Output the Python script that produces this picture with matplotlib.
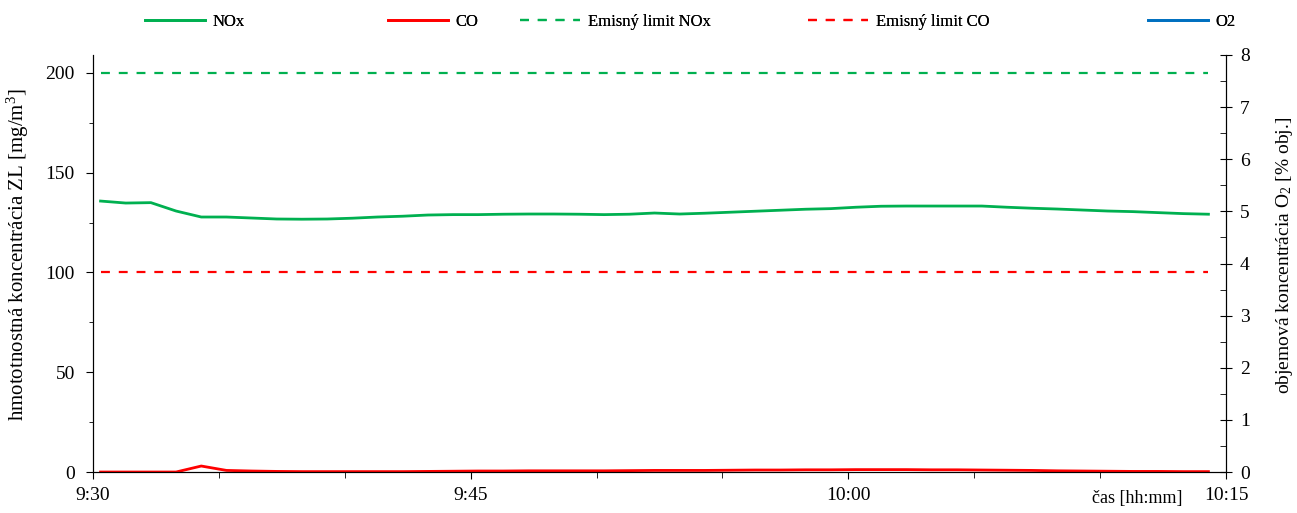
import numpy as np
import pandas as pd
import matplotlib
matplotlib.use('Agg')
import matplotlib.pyplot as plt
import matplotlib.dates as mdates
from matplotlib.ticker import MultipleLocator

plt.rcParams['font.family'] = ['Liberation Serif', 'DejaVu Serif']
plt.rcParams['font.size'] = 12
plt.rcParams['mathtext.fontset'] = 'custom'
plt.rcParams['mathtext.rm'] = 'Liberation Serif'
plt.rcParams['mathtext.it'] = 'Liberation Serif:italic'

# merania po minutach
cas = pd.date_range('2020-01-01 09:30:18', periods=45, freq='min')

nox = [135.8, 134.8, 135.0, 130.8, 127.8, 127.8, 127.3, 126.8, 126.7, 126.8,
       127.2, 127.8, 128.2, 128.8, 129.0, 129.0, 129.2, 129.3, 129.3, 129.2,
       129.0, 129.2, 129.8, 129.3, 129.7, 130.2, 130.7, 131.2, 131.7, 132.0,
       132.7, 133.2, 133.3, 133.3, 133.3, 133.3, 132.7, 132.2, 131.8, 131.3,
       130.8, 130.5, 130.0, 129.5, 129.2]
co = [0.0, 0.0, 0.0, 0.0, 3.0, 0.8, 0.5, 0.3, 0.2, 0.2,
      0.2, 0.2, 0.2, 0.3, 0.4, 0.5, 0.5, 0.6, 0.6, 0.6,
      0.6, 0.7, 0.8, 0.8, 0.8, 0.9, 1.0, 1.0, 1.1, 1.1,
      1.2, 1.2, 1.2, 1.1, 1.1, 1.0, 0.9, 0.8, 0.6, 0.5,
      0.4, 0.3, 0.3, 0.2, 0.2]
limit_nox = 200
limit_co = 100
o2 = []  # mimo rozsahu osi, nezobrazene

green = '#00B050'
red = '#FF0000'
blue = '#0070C0'

fig = plt.figure(figsize=(12.97, 5.13), dpi=100)
ax = fig.add_axes([0.0717, 0.0799, 0.8736, 0.8129])
ax2 = ax.twinx()

l1, = ax.plot(cas, nox, color=green, lw=2, label='NOx')
l2, = ax.plot(cas, co, color=red, lw=2, label='CO')
l3, = ax.plot(cas, [limit_nox]*len(cas), color=green, lw=1.6, ls=(0, (4, 4)), label='Emisný limit NOx')
l4, = ax.plot(cas, [limit_co]*len(cas), color=red, lw=1.6, ls=(0, (4, 4)), label='Emisný limit CO')
l5, = ax2.plot(cas[:len(o2)], o2, color=blue, lw=2, label='O2')

t0 = pd.Timestamp('2020-01-01 09:30')
t1 = pd.Timestamp('2020-01-01 10:15')
ax.set_xlim(t0, t1)
ax.set_ylim(0, 209)
ax2.set_ylim(0, 8)

ax.xaxis.set_major_locator(mdates.MinuteLocator(byminute=[0, 15, 30, 45]))
ax.xaxis.set_minor_locator(mdates.MinuteLocator(byminute=range(0, 60, 5)))
ax.xaxis.set_major_formatter(mdates.DateFormatter('%-H:%M'))
ax.yaxis.set_major_locator(MultipleLocator(50))
ax.yaxis.set_minor_locator(MultipleLocator(25))
ax2.yaxis.set_major_locator(MultipleLocator(1))
ax2.yaxis.set_minor_locator(MultipleLocator(0.5))

ax.tick_params(axis='x', which='major', direction='out', length=5, labelsize=14, pad=6)
ax.tick_params(axis='x', which='minor', direction='out', length=4)
ax.tick_params(axis='y', which='major', direction='out', length=5, labelsize=14, pad=8)
ax.tick_params(axis='y', which='minor', direction='out', length=3)
ax2.tick_params(axis='y', which='major', direction='inout', length=8, labelsize=14, pad=6)
ax2.tick_params(axis='y', which='minor', direction='in', length=4)

for a in (ax, ax2):
    a.spines['top'].set_visible(False)

ax.set_ylabel('hmototnostná koncentrácia ZL [mg/m$^3$]', fontsize=15)
ax.yaxis.set_label_coords(-0.055, 0.52)
ax2.set_ylabel('objemová koncentrácia O$_2$ [% obj.]', fontsize=14)
ax2.yaxis.set_label_coords(1.042, 0.52)
fig.text(0.912, 0.012, 'čas [hh:mm]', ha='right', va='bottom', fontsize=13)

# polozky legendy rozmiestnene samostatne ako v povodnom grafe
leg_x = [145, 388, 520, 808, 1148]
for h, x in zip([l1, l2, l3, l4, l5], leg_x):
    lg = fig.legend(handles=[h], loc='center left', bbox_to_anchor=(x / 1297, 0.958),
                    frameon=False, fontsize=12, handlelength=3.6, handletextpad=0.45,
                    borderpad=0, borderaxespad=0)
    fig.add_artist(lg)

fig.savefig('out.png', dpi=100)
